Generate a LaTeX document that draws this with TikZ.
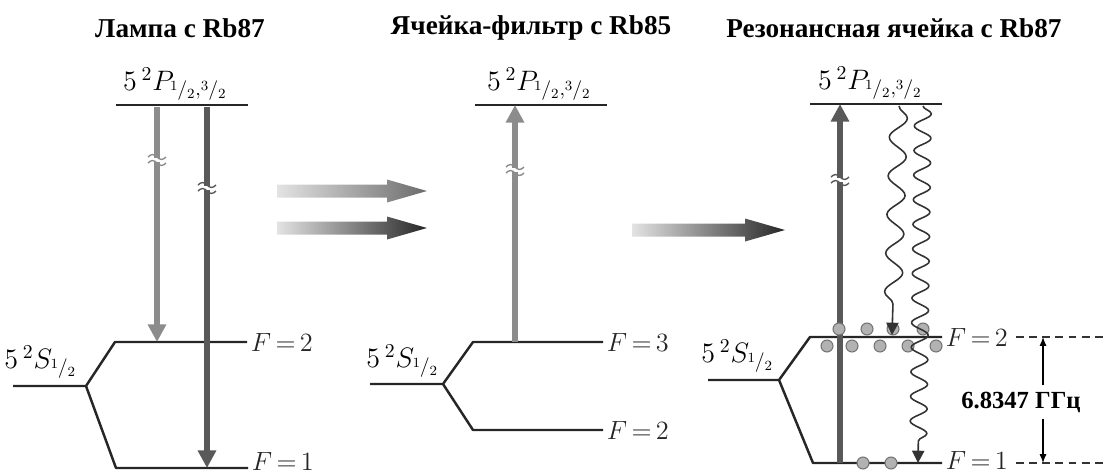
\RequirePackage{fix-cm}
\documentclass[tikz,border=0pt]{standalone}
\usepackage{fontspec}
\setmainfont{Liberation Serif}
\usepackage{tikz}
\usetikzlibrary{arrows.meta, positioning, calc, decorations.pathmorphing}

\newcommand{\fr}[1]{{}^{#1}\kern-0.6pt/{}_{2}}
% breiter Pfeil mit Farbverlauf: x0, x1, y, Endfarbe
\newcommand{\fatarrow}[4]{%
  \shade[left color=gray!22, right color=#4]
    (#1,#3-6.5) -- (#2-40,#3-6.5) -- (#2-40,#3-11.5) -- (#2,#3)
    -- (#2-40,#3+11.5) -- (#2-40,#3+6.5) -- (#1,#3+6.5) -- cycle;}

\begin{document}
\begin{tikzpicture}[x=0.02cm, y=-0.02cm, line join=round,
    lvl/.style={line width=1.4pt, black!85},
    lbl/.style={font=\fontsize{16}{18}\selectfont, inner sep=1pt},
    flbl/.style={font=\fontsize{15}{17}\selectfont, inner sep=1.5pt},
    ttl/.style={font=\bfseries\fontsize{15.5}{18}\selectfont},
    pumplt/.style={line width=3.4pt, gray!90, -{Triangle[length=10pt,width=10pt]}},
    pumpdk/.style={line width=3.4pt, black!65, -{Triangle[length=10pt,width=10pt]}},
    wavelong/.style={decorate, decoration={snake, amplitude=5pt, segment length=22pt, post length=7pt},
      line width=0.9pt, black!80, -{Triangle[length=7pt,width=7pt]}},
    waveshort/.style={decorate, decoration={snake, amplitude=4.8pt, segment length=14pt, post length=7pt},
      line width=0.9pt, black!80, -{Triangle[length=7pt,width=7pt]}},
    ball/.style={fill=gray!60, draw=gray!90!black, line width=0.6pt},
    dim/.style={line width=0.7pt, black!80, dash pattern=on 4.5pt off 3pt},
    brk/.pic={
      \fill[white] (-3.5,-2) rectangle (3.5,2);
      \draw[line width=0.8pt] (-9,-3) sin (-4.5,-5.5) cos (0,-3) sin (4.5,-0.5) cos (9,-3);
      \draw[line width=0.8pt] (-9,3) sin (-4.5,0.5) cos (0,3) sin (4.5,5.5) cos (9,3);
    }]
  \useasboundingbox (0,0) rectangle (1104,474);

  % Titel
  \node[ttl] (t1) at (180,28) {Лампа с Rb87};
  \node[ttl] (t2) at (531,28) {Ячейка-фильтр с Rb85};
  \node[ttl] (t3) at (894,28) {Резонансная ячейка с Rb87};

  % Lampe
  \coordinate (L-P) at (116,105);
  \coordinate (L-S) at (86,386);
  \coordinate (L-F2) at (115,342);
  \coordinate (L-F1) at (116,468);
  \draw[lvl] (L-P) -- ++(132,0);
  \draw[lvl] (13,386) -- (L-S) -- (L-F2) -- ++(132,0) node[flbl, right] (L-f2) {$F\,{=}\,2$};
  \draw[lvl] (L-S) -- (L-F1) -- ++(132,0) node[flbl, right, yshift=3.5pt] (L-f1) {$F\,{=}\,1$};
  \node[lbl, anchor=south west] (L-p) at (121,103) {$5\,{}^2P_{\fr1,\fr3}$};
  \node[lbl, anchor=south east] (L-s) at (79,381) {$5\,{}^2S_{\fr1}$};
  \draw[pumplt] (157,107) -- (157,342);
  \draw[pumpdk] (207,107) -- (207,468);
  \pic[gray!90] at (157,160) {brk};
  \pic[black!65] at (207,188) {brk};

  % Pfeile zwischen den Bildern
  \fatarrow{277}{427}{191}{black!58}
  \fatarrow{277}{427}{228}{black!85}
  \fatarrow{632}{785}{230}{black!85}

  % Filterzelle
  \coordinate (M-P) at (475,105);
  \coordinate (M-S) at (443,384);
  \coordinate (M-F3) at (473,342);
  \coordinate (M-F2) at (473,430);
  \draw[lvl] (M-P) -- ++(132,0);
  \draw[lvl] (370,384) -- (M-S) -- (M-F3) -- ++(130,0) node[flbl, right] (M-f3) {$F\,{=}\,3$};
  \draw[lvl] (M-S) -- (M-F2) -- ++(130,0) node[flbl, right] (M-f2) {$F\,{=}\,2$};
  \node[lbl, anchor=south west] (M-p) at (485,103) {$5\,{}^2P_{\fr1,\fr3}$};
  \node[lbl, anchor=south east] (M-s) at (441,380) {$5\,{}^2S_{\fr1}$};
  \draw[pumplt] (515,342) -- (515,105);
  \pic[gray!90] at (515,170) {brk};

  % Resonanzzelle
  \coordinate (R-P) at (810,104);
  \coordinate (R-S) at (779,380);
  \coordinate (R-F2) at (810,337);
  \coordinate (R-F1) at (813,463);
  \draw[lvl] (R-P) -- ++(132,0);
  \draw[lvl] (708,380) -- (R-S) -- (R-F2) -- ++(132,0) node[flbl, right] (R-f2) {$F\,{=}\,2$};
  \draw[lvl] (R-S) -- (R-F1) -- ++(129,0) node[flbl, right, yshift=1.5pt] (R-f1) {$F\,{=}\,1$};
  \node[lbl, anchor=south west] (R-p) at (816,102) {$5\,{}^2P_{\fr1,\fr3}$};
  \node[lbl, anchor=south east] (R-s) at (776,375) {$5\,{}^2S_{\fr1}$};
  \draw[pumpdk] (840,463) -- (840,104);
  \pic[black!65] at (840,180) {brk};
  % Atome
  \foreach \x in {839,867,923} \filldraw[ball] (\x,329) circle (6);
  \foreach \x in {827,852,880,908,936} \filldraw[ball] (\x,346) circle (6);
  \foreach \x in {863,891} \filldraw[ball] (\x,463) circle (6);
  \filldraw[ball] (893,329) circle (6);
  % Fluoreszenz
  \draw[wavelong] (899,106) -- (892,335);
  \draw[waveshort] (923,106) -- (918,463);
  % Abstand
  \coordinate (d2) at (1043,337);
  \coordinate (d1) at (1043,463);
  \draw[dim] ($(R-f2.east)+(4,0)$) -- (1104,337);
  \draw[dim] ($(R-f1.east |- R-F1)+(4,0)$) -- (1104,463);
  \node[font=\bfseries\fontsize{14}{16}\selectfont] (gap) at (1021,402) {6.8347 ГГц};
  \draw[line width=0.7pt, -{Latex[length=5pt,width=4pt]}] (gap.north -| d2) -- (d2);
  \draw[line width=0.7pt, -{Latex[length=5pt,width=4pt]}] (gap.south -| d1) -- (d1);
\end{tikzpicture}
\end{document}
